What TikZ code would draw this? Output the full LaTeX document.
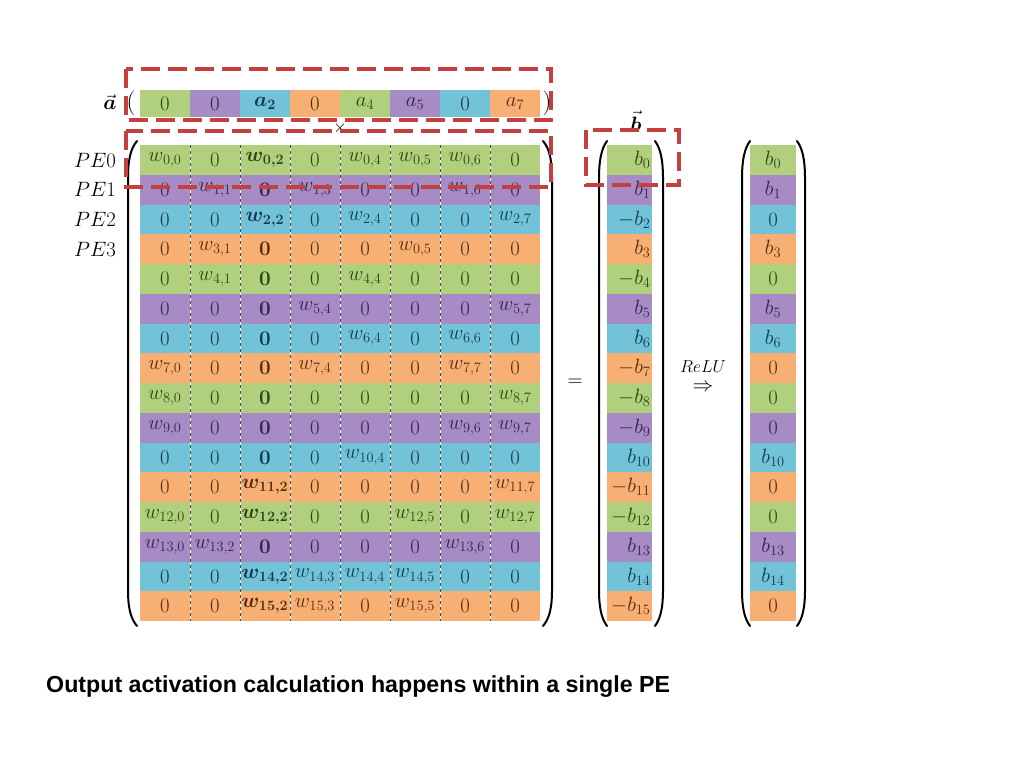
\documentclass[tikz,border=0pt]{standalone}
\usepackage{amsmath}
\usepackage{fontspec}
\newfontfamily\capfont{Liberation Sans}
\definecolor{gC}{HTML}{B1D07D}
\definecolor{pC}{HTML}{A68BC5}
\definecolor{bC}{HTML}{72C3D8}
\definecolor{oC}{HTML}{F8AF73}
\definecolor{gT}{HTML}{2A4614}
\definecolor{pT}{HTML}{35244F}
\definecolor{bT}{HTML}{123A4E}
\definecolor{oT}{HTML}{522E10}
\definecolor{hiRed}{HTML}{C4403F}
\tikzset{
  cellbox/.style={minimum width=50pt, minimum height=29.75pt, inner sep=0pt, outer sep=0pt,
    anchor=north west, font=\fontsize{22}{24}\selectfont},
  acell/.style={cellbox, minimum height=27pt},
  bcell/.style={anchor=north west, text width=42pt, align=right, inner sep=1.5pt, outer sep=0pt,
    minimum height=29.75pt, font=\fontsize{22}{24}\selectfont},
  ocell/.style={cellbox, minimum width=46pt},
  sep/.style={gray!60!black, line width=0.8pt, dash pattern=on 3pt off 3pt},
  sepbg/.style={white, line width=0.8pt},
  paren/.style={black, line width=2pt, line cap=round},
  redbox/.style={draw=hiRed, line width=4pt, dash pattern=on 19pt off 8pt},
  lbl/.style={font=\fontsize{22}{24}\selectfont, inner sep=0pt},
}
\newcommand\mrow[3]{%
  \foreach \ent [count=\kk from 0] in {#3} {
    \node[cellbox, fill=#2C, text=#2T] (m#1-\kk) at ({140+50*\kk}, {145+29.75*#1}) {$\ent$};
  }}
\begin{document}
\begin{tikzpicture}[x=1pt,y=-1pt]
\useasboundingbox (0,0) rectangle (1024,768);
\fill[white] (0,0) rectangle (1024,768);

% ---- vector a ----
\foreach \ent/\cl [count=\kk from 0] in {0/g,0/p,{\boldsymbol{a_2}}/b,0/o,{a_4}/g,{a_5}/p,0/b,{a_7}/o} {
  \node[acell, fill=\cl C, text=\cl T] (a\kk) at ({140+50*\kk}, 90) {$\ent$};
}
\node[lbl] (alab) at (110,102) {$\vec{\boldsymbol{a}}$};
\node[lbl, font=\fontsize{30}{32}\selectfont] (alp) at (131,103) {$($};
\node[lbl, font=\fontsize{30}{32}\selectfont] (arp) at (547,103) {$)$};
\node[lbl, font=\fontsize{18}{20}\selectfont] (times) at (340,128) {$\times$};

% ---- matrix W ----
\mrow{0}{g}{{w_{0,0}},0,{\boldsymbol{w_{0,2}}},0,{w_{0,4}},{w_{0,5}},{w_{0,6}},0}
\mrow{1}{p}{0,{w_{1,1}},{\boldsymbol{0}},{w_{1,3}},0,0,{w_{1,6}},0}
\mrow{2}{b}{0,0,{\boldsymbol{w_{2,2}}},0,{w_{2,4}},0,0,{w_{2,7}}}
\mrow{3}{o}{0,{w_{3,1}},{\boldsymbol{0}},0,0,{w_{0,5}},0,0}
\mrow{4}{g}{0,{w_{4,1}},{\boldsymbol{0}},0,{w_{4,4}},0,0,0}
\mrow{5}{p}{0,0,{\boldsymbol{0}},{w_{5,4}},0,0,0,{w_{5,7}}}
\mrow{6}{b}{0,0,{\boldsymbol{0}},0,{w_{6,4}},0,{w_{6,6}},0}
\mrow{7}{o}{{w_{7,0}},0,{\boldsymbol{0}},{w_{7,4}},0,0,{w_{7,7}},0}
\mrow{8}{g}{{w_{8,0}},0,{\boldsymbol{0}},0,0,0,0,{w_{8,7}}}
\mrow{9}{p}{{w_{9,0}},0,{\boldsymbol{0}},0,0,0,{w_{9,6}},{w_{9,7}}}
\mrow{10}{b}{0,0,{\boldsymbol{0}},0,{w_{10,4}},0,0,0}
\mrow{11}{o}{0,0,{\boldsymbol{w_{11,2}}},0,0,0,0,{w_{11,7}}}
\mrow{12}{g}{{w_{12,0}},0,{\boldsymbol{w_{12,2}}},0,0,{w_{12,5}},0,{w_{12,7}}}
\mrow{13}{p}{{w_{13,0}},{w_{13,2}},{\boldsymbol{0}},0,0,0,{w_{13,6}},0}
\mrow{14}{b}{0,0,{\boldsymbol{w_{14,2}}},{w_{14,3}},{w_{14,4}},{w_{14,5}},0,0}
\mrow{15}{o}{0,0,{\boldsymbol{w_{15,2}}},{w_{15,3}},0,{w_{15,5}},0,0}

% column separators
\foreach \kk in {1,...,7} {
  \draw[sepbg] (m0-\kk.north west) -- (m15-\kk.south west);
  \draw[sep] (m0-\kk.north west) -- (m15-\kk.south west);
}

% PE labels
\node[lbl] (pe0) at (95,160) {$PE0$};
\node[lbl] (pe1) at (95,189) {$PE1$};
\node[lbl] (pe2) at (95,219) {$PE2$};
\node[lbl] (pe3) at (95,249) {$PE3$};

% matrix parentheses
\draw[paren] (137,141) .. controls (130,149) and (128,162) .. (128,178) -- (128,590) .. controls (128,606) and (130,618) .. (137,626);
\draw[paren] (543,141) .. controls (550,149) and (552,162) .. (552,178) -- (552,590) .. controls (552,606) and (550,618) .. (543,626);

\node[lbl] (eq) at (575,383) {$=$};

% ---- vector b ----
\foreach \ent/\cl [count=\kk from 0] in {{b_0}/g,{b_1}/p,{-b_2}/b,{b_3}/o,{-b_4}/g,{b_5}/p,{b_6}/b,{-b_7}/o,{-b_8}/g,{-b_9}/p,{b_{10}}/b,{-b_{11}}/o,{-b_{12}}/g,{b_{13}}/p,{b_{14}}/b,{-b_{15}}/o} {
  \node[bcell, fill=\cl C, text=\cl T] (b\kk) at (607, {145+29.75*\kk}) {$\ent$};
}
\node[lbl] (blab) at (636,121) {$\vec{\boldsymbol{b}}$};
\draw[paren] (607,141) .. controls (601,149) and (599,162) .. (599,178) -- (599,590) .. controls (599,606) and (601,618) .. (607,626);
\draw[paren] (655,141) .. controls (661,149) and (663,162) .. (663,178) -- (663,590) .. controls (663,606) and (661,618) .. (655,626);

% ---- ReLU ----
\node[lbl, font=\fontsize{16}{18}\selectfont] (relu) at (703,367) {$ReLU$};
\node[lbl, font=\fontsize{20}{22}\selectfont] (imp) at (703,388) {$\Rightarrow$};

% ---- output vector ----
\foreach \ent/\cl [count=\kk from 0] in {{b_0}/g,{b_1}/p,0/b,{b_3}/o,0/g,{b_5}/p,{b_6}/b,0/o,0/g,0/p,{b_{10}}/b,0/o,0/g,{b_{13}}/p,{b_{14}}/b,0/o} {
  \node[ocell, fill=\cl C, text=\cl T] (o\kk) at (750, {145+29.75*\kk}) {$\ent$};
}
\draw[paren] (750,141) .. controls (744,149) and (742,162) .. (742,178) -- (742,590) .. controls (742,606) and (744,618) .. (750,626);
\draw[paren] (797,141) .. controls (803,149) and (805,162) .. (805,178) -- (805,590) .. controls (805,606) and (803,618) .. (797,626);

% ---- red highlight boxes ----
\draw[redbox] (126,69) rectangle (551,120);
\draw[redbox] (126,131) rectangle (551,187);
\draw[redbox] (586,130) rectangle (679,185);

% ---- caption ----
\node[anchor=base west, inner sep=0pt, font=\capfont\bfseries\fontsize{23.2}{26}\selectfont] (cap) at (46,692)
  {Output activation calculation happens within a single PE};
\end{tikzpicture}
\end{document}
